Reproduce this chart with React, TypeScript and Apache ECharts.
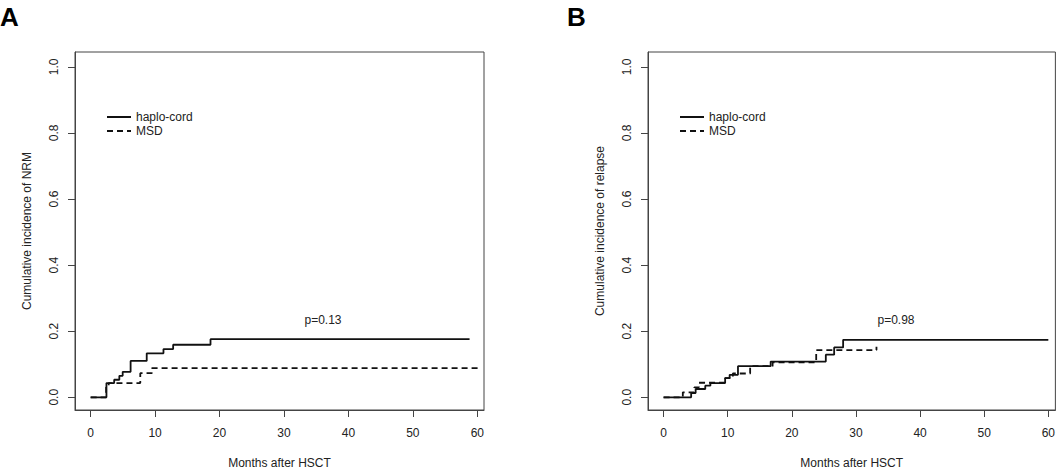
import React, { useEffect, useRef } from "react";
import * as echarts from "echarts";

const monthTicks = [0, 10, 20, 30, 40, 50, 60];
const probTicks = [0, 0.2, 0.4, 0.6, 0.8, 1.0];

// Panel A: NRM
const nrmHaploTimes = [0, 2.45, 3.65, 4.45, 4.97, 6.2, 8.7, 11.3, 12.8, 18.6];
const nrmHaploVals = [0, 0.043, 0.053, 0.065, 0.077, 0.11, 0.133, 0.146, 0.159, 0.176];
const nrmHaploEnd = 58.8;
const nrmMsdTimes = [0, 2.4, 2.8, 7.7, 9.5];
const nrmMsdVals = [0, 0.03, 0.043, 0.073, 0.088];
const nrmMsdEnd = 60.4;

// Panel B: relapse
const relHaploTimes = [0, 4.3, 5.0, 6.5, 7.3, 9.6, 10.3, 11.6, 16.7, 25.3, 26.6, 28.0];
const relHaploVals = [0, 0.013, 0.025, 0.035, 0.043, 0.058, 0.068, 0.094, 0.108, 0.129, 0.151, 0.174];
const relHaploEnd = 60;
const relMsdTimes = [0, 3.0, 4.8, 5.5, 9.6, 10.8, 13.5, 17.0, 23.8, 33.2];
const relMsdVals = [0, 0.015, 0.03, 0.044, 0.058, 0.072, 0.094, 0.106, 0.143, 0.153];
const relMsdEnd = 33.3;

const seriesNames = ["haplo-cord", "MSD"];
const yTitles = ["Cumulative incidence of NRM", "Cumulative incidence of relapse"];
const xTitle = "Months after HSCT";
const pValues = ["p=0.13", "p=0.98"];
const panelLetters = ["A", "B"];

function stepPoints(times: number[], vals: number[], end: number) {
  const pts: number[][] = [];
  for (let i = 0; i < times.length; i++) {
    if (i > 0) pts.push([times[i], vals[i - 1]]);
    pts.push([times[i], vals[i]]);
  }
  pts.push([end, vals[vals.length - 1]]);
  return pts;
}

const FONT = "'Liberation Sans', Arial, sans-serif";
const INK = "#222";
const FRAME = "#444";

export default function App() {
  const ref = useRef<HTMLDivElement>(null);
  useEffect(() => {
    if (!ref.current) return;
    const chart = echarts.init(ref.current, undefined, { renderer: "svg" });
    const grids = [
      { left: 75, top: 52, width: 409, height: 366 },
      { left: 648, top: 52, width: 409, height: 366 },
    ];
    const xRanges = [
      [-2.43, 61.04],
      [-2.43, 61.1],
    ];
    const mkX = (i: number) => ({
      type: "value",
      gridIndex: i,
      min: xRanges[i][0],
      max: xRanges[i][1],
      name: xTitle,
      nameLocation: "middle",
      nameGap: 47,
      nameTextStyle: { fontFamily: FONT, fontSize: 12, color: INK },
      axisLine: { show: true, onZero: false, lineStyle: { color: FRAME, width: 1 } },
      axisTick: { show: true, length: 7, customValues: monthTicks, lineStyle: { color: FRAME } },
      axisLabel: { customValues: monthTicks, margin: 17, fontFamily: FONT, fontSize: 12, color: INK },
      splitLine: { show: false },
    });
    const mkY = (i: number) => ({
      type: "value",
      gridIndex: i,
      min: -0.0385,
      max: 1.045,
      name: yTitles[i],
      nameLocation: "middle",
      nameGap: 42,
      nameTextStyle: { fontFamily: FONT, fontSize: 12, color: INK },
      axisLine: { show: true, onZero: false, lineStyle: { color: FRAME, width: 1 } },
      axisTick: { show: true, length: 7, customValues: probTicks, lineStyle: { color: FRAME } },
      axisLabel: {
        customValues: probTicks,
        rotate: 90,
        margin: 15,
        fontFamily: FONT,
        fontSize: 12,
        color: INK,
        formatter: (v: number) => v.toFixed(1),
      },
      splitLine: { show: false },
    });
    const solid = { color: "#111", width: 1.8, type: "solid" };
    const dashed = { color: "#111", width: 1.8, type: [6, 4] };
    const mkSeries = (name: string, data: number[][], idx: number, ls: any) => ({
      type: "line",
      name,
      xAxisIndex: idx,
      yAxisIndex: idx,
      data,
      symbol: "none",
      showSymbol: false,
      lineStyle: ls,
      itemStyle: { color: "#111" },
      silent: true,
    });
    const legendFor = (left: number) => ({
      left,
      top: 106,
      orient: "vertical",
      itemWidth: 24,
      itemHeight: 10,
      itemGap: 2,
      data: seriesNames,
      selectedMode: false,
      itemStyle: { opacity: 0, borderWidth: 0 },
      textStyle: { fontFamily: FONT, fontSize: 12, color: INK },
    });
    chart.setOption({
      animation: false,
      backgroundColor: "#fff",
      grid: grids.map((g) => ({ ...g, show: true, borderColor: FRAME, borderWidth: 1, backgroundColor: "transparent" })),
      xAxis: [mkX(0), mkX(1)],
      yAxis: [mkY(0), mkY(1)],
      legend: [legendFor(101), legendFor(674)],
      series: [
        mkSeries(seriesNames[0], stepPoints(nrmHaploTimes, nrmHaploVals, nrmHaploEnd), 0, solid),
        mkSeries(seriesNames[1], stepPoints(nrmMsdTimes, nrmMsdVals, nrmMsdEnd), 0, dashed),
        mkSeries(seriesNames[0], stepPoints(relHaploTimes, relHaploVals, relHaploEnd), 1, solid),
        mkSeries(seriesNames[1], stepPoints(relMsdTimes, relMsdVals, relMsdEnd), 1, dashed),
      ],
      graphic: [
        { type: "text", left: 0, top: 4, style: { text: panelLetters[0], font: `bold 26px ${FONT}`, fill: "#000" } },
        { type: "text", left: 567, top: 4, style: { text: panelLetters[1], font: `bold 26px ${FONT}`, fill: "#000" } },
        { type: "text", x: 323, y: 320, style: { text: pValues[0], font: `12px ${FONT}`, fill: INK, align: "center", verticalAlign: "middle" } },
        { type: "text", x: 896, y: 320, style: { text: pValues[1], font: `12px ${FONT}`, fill: INK, align: "center", verticalAlign: "middle" } },
      ],
    });
    return () => chart.dispose();
  }, []);
  return (
    <div
      ref={ref}
      style={{ position: "absolute", left: 0, top: 0, width: 1058, height: 474, background: "#fff" }}
    />
  );
}
